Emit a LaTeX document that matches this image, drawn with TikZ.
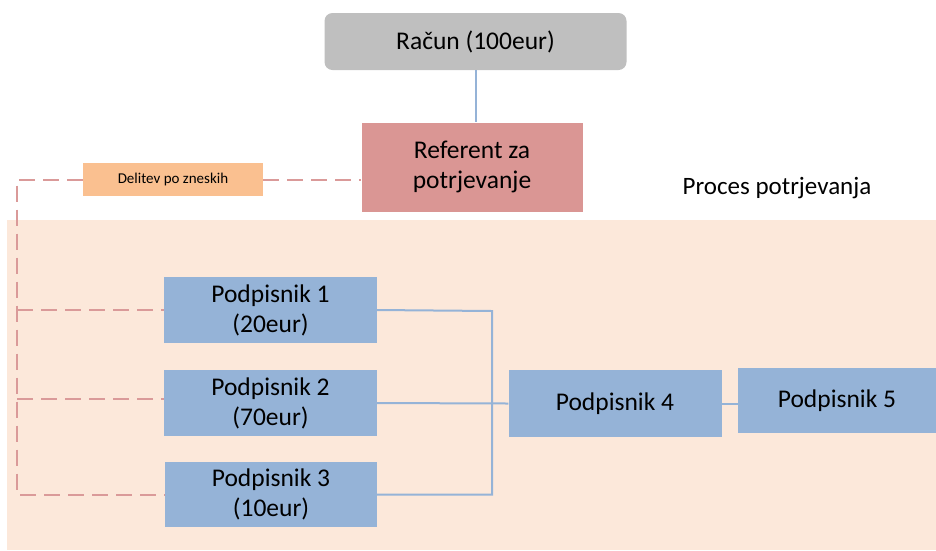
\documentclass[tikz,border=0pt]{standalone}
\usepackage{fontspec}
\setmainfont{Carlito}
\definecolor{racungray}{HTML}{BFBFBF}
\definecolor{refred}{HTML}{DA9694}
\definecolor{delorange}{HTML}{FAC090}
\definecolor{podblue}{HTML}{95B3D7}
\definecolor{procpeach}{HTML}{FCE8DA}
\definecolor{dashred}{HTML}{DA9A99}
\tikzset{
  box/.style={inner sep=0pt, align=center, text=black,
    font=\fontsize{25.5}{30}\selectfont},
  podbox/.style={box, fill=podblue},
  bluelink/.style={draw=podblue, line width=2pt},
  splitlink/.style={draw=dashred, line width=2pt, dash pattern=on 16pt off 8pt},
}
\begin{document}
\begin{tikzpicture}[x=1pt, y=-1pt]
\useasboundingbox (0,0) rectangle (936,550);
% process area
\fill[procpeach] (7,220) rectangle (936,550);
\node[font=\fontsize{25}{30}\selectfont, text=black] (proc) at (777,188) {Proces potrjevanja};

% top of the hierarchy
\node[box, fill=racungray, rounded corners=8pt, minimum width=302pt, minimum height=57pt] (racun) at (475.5,41.5) {Račun (100eur)};
\node[box, fill=refred, minimum width=221pt, minimum height=89pt] (ref) at (472,167) {Referent za\\potrjevanje};
\draw[bluelink] (racun.south -| 476,0) -- (ref.north -| 476,0);

% signers
\node[podbox, minimum width=213pt, minimum height=66pt] (p1) at (270.5,310) {Podpisnik 1\\(20eur)};
\node[podbox, minimum width=213pt, minimum height=66pt] (p2) at (270.5,403) {Podpisnik 2\\(70eur)};
\node[podbox, minimum width=212pt, minimum height=65pt] (p3) at (271,494.5) {Podpisnik 3\\(10eur)};
\node[podbox, minimum width=213pt, minimum height=67pt] (p4) at (615,403.5) {Podpisnik 4};
\node[podbox, minimum width=198pt, minimum height=65pt] (p5) at (837,400.5) {Podpisnik 5};

% amount split (dashed)
\node[box, fill=delorange, minimum width=180pt, minimum height=33pt,
      font=\fontsize{15}{17}\selectfont] (del) at (173,179.5) {Delitev po zneskih};
\coordinate (corner) at (17,179.5);
\draw[splitlink] (del.east) -- (del.east -| ref.west);
\draw[splitlink] (del.west) -- (corner) -- (corner |- p3.west) -- (p3.west);
\draw[splitlink] (corner |- p1.west) -- (p1.west);
\draw[splitlink] (corner |- 0,399) -- (p2.west |- 0,399);

% approval flow
\coordinate (join) at (492,311);
\draw[bluelink] (p1.east) -- (join) -- (join |- p3.east) -- (p3.east);
\draw[bluelink] (p2.east) -- (p4.west);
\draw[bluelink] (p4.east) -- (p4.east -| p5.west);
\end{tikzpicture}
\end{document}
